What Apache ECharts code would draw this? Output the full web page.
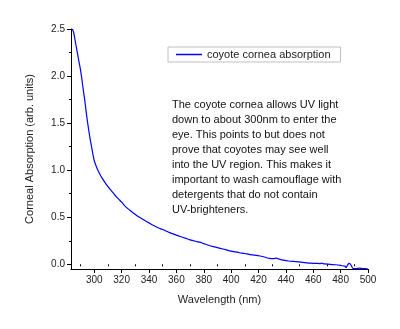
<!DOCTYPE html>
<html><head><meta charset="utf-8">
<script src="https://cdn.jsdelivr.net/npm/echarts@6/dist/echarts.min.js"></script>
<style>html,body{margin:0;padding:0;background:#fff}#c{width:400px;height:329px}</style>
</head><body><div id="c"></div>
<script>
const wavelengths = [284,285,286,287,288,289,290,291,292,293,294,295,296,297,298,299,300,302,304,306,308,310,312,314,316,318,320,323,326,330,333,337,340,343,347,350,355,360,363,367,370,374,377,380,384,388,392,396,400,403,406,410,413,417,421,425,428,431,433,435,438,442,446,450,454,458,462,465,466,468,472,476,480,483,484,485,486,487,488,489,491,494,496,498,500];
const absorption = [2.50,2.46,2.38,2.30,2.22,2.14,2.06,1.96,1.85,1.75,1.63,1.52,1.42,1.33,1.25,1.17,1.10,1.02,0.96,0.91,0.865,0.825,0.79,0.755,0.72,0.69,0.66,0.61,0.575,0.53,0.50,0.465,0.44,0.415,0.385,0.37,0.336,0.31,0.295,0.275,0.26,0.245,0.235,0.22,0.20,0.185,0.17,0.155,0.14,0.132,0.123,0.115,0.105,0.097,0.088,0.075,0.062,0.06,0.065,0.055,0.045,0.035,0.03,0.025,0.018,0.012,0.01,0.008,0.012,0.004,0.0,-0.005,-0.012,-0.02,-0.035,-0.01,0.01,0.005,-0.02,-0.045,-0.045,-0.04,-0.045,-0.045,-0.05];
const xMajorTicks = [300,320,340,360,380,400,420,440,460,480,500];
const xMinorTicks = [290,310,330,350,370,390,410,430,450,470,490];
const yMajorTicks = [0,0.5,1.0,1.5,2.0,2.5];
const yMinorTicks = [0.25,0.75,1.25,1.75,2.25];
const seriesName = 'coyote cornea absorption';
const xTitle = 'Wavelength (nm)';
const yTitle = 'Corneal Absorption (arb. units)';
const note = 'The coyote cornea allows UV light\ndown to about 300nm to enter the\neye. This points to but does not\nprove that coyotes may see well\ninto the UV region. This makes it\nimportant to wash camouflage with\ndetergents that do not contain\nUV-brighteners.';

const font = 'Arial, "Liberation Sans", sans-serif';
const chart = echarts.init(document.getElementById('c'));
chart.setOption({
  animation:false,
  grid:{left:71,right:32,top:29,bottom:60},
  legend:{
    left:168, top:47, orient:'horizontal',
    data:[{name:seriesName, icon:'rect'}],
    itemWidth:26, itemHeight:1.5,
    borderColor:'#c0c0c0', borderWidth:1, padding:[2,10,2,8],
    textStyle:{fontFamily:font,fontSize:11,color:'#222'},
    itemGap:4
  },
  xAxis:[
    {type:'value', min:283, max:500, name:xTitle, nameLocation:'middle', nameGap:25,
     nameTextStyle:{fontFamily:font,fontSize:11,color:'#222'},
     axisLine:{show:true,onZero:false,lineStyle:{color:'#000',width:1}},
     axisTick:{show:true,inside:false,length:4,customValues:xMajorTicks,lineStyle:{color:'#000'}},
     axisLabel:{customValues:xMajorTicks,fontFamily:font,fontSize:10,color:'#222',margin:6},
     splitLine:{show:false}},
    {type:'value', min:283, max:500, position:'bottom',
     axisLine:{show:false},
     axisTick:{show:true,length:2,customValues:xMinorTicks,lineStyle:{color:'#000'}},
     axisLabel:{show:false}, splitLine:{show:false}}
  ],
  yAxis:[
    {type:'value', min:-0.05, max:2.5, name:yTitle, nameLocation:'middle', nameGap:36, nameRotate:90,
     nameTextStyle:{fontFamily:font,fontSize:11,color:'#222'},
     axisLine:{show:true,onZero:false,lineStyle:{color:'#000',width:1}},
     axisTick:{show:true,length:4,customValues:yMajorTicks,lineStyle:{color:'#000'}},
     axisLabel:{customValues:yMajorTicks,fontFamily:font,fontSize:10,color:'#222',margin:6,
       formatter:v=>v.toFixed(1)},
     splitLine:{show:false}},
    {type:'value', min:-0.05, max:2.5, position:'left',
     axisLine:{show:false},
     axisTick:{show:true,length:2,customValues:yMinorTicks,lineStyle:{color:'#000'}},
     axisLabel:{show:false}, splitLine:{show:false}}
  ],
  series:[{
    name:seriesName, type:'line', xAxisIndex:0, yAxisIndex:0,
    data:wavelengths.map((w,i)=>[w,absorption[i]]),
    symbol:'none', smooth:0.2,
    lineStyle:{color:'#0000ff',width:1.2}, itemStyle:{color:'#0000ff'}
  }],
  graphic:[{
    type:'text', left:172, top:97,
    style:{text:note, fontFamily:font, fontSize:11, lineHeight:15, fill:'#111'}
  }]
});
</script></body></html>
